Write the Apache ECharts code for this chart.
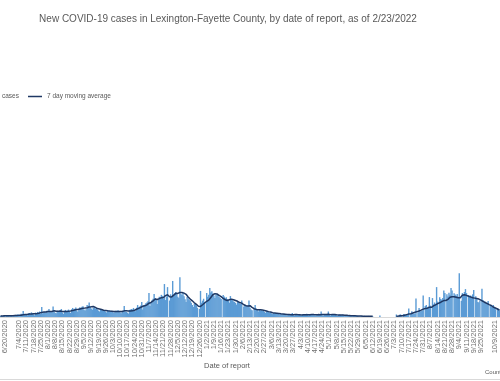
<!DOCTYPE html>
<html><head><meta charset="utf-8">
<script src="https://cdn.jsdelivr.net/npm/echarts@6/dist/echarts.min.js"></script>
<style>html,body{margin:0;padding:0;background:#fff;overflow:hidden}#c{width:500px;height:381px}</style>
</head><body><div id="c"></div>
<script>
// Daily new cases, 6/16/2020 .. 12/31/2020
const cases2020 = [
  // Jun 16-30
  12,18,9,22,15,6,20,14,25,11,19,24,8,21,27,
  // Jul
  30,22,35,12,18,41,33, 78,28,39,25,19,45,52, 38,61,44,35,22,58,49, 66,51,72,40,130,47,63, 70,55,81,
  // Aug
  58,104,69,77,62,137,71, 54,48,83,76,66,88,104, 59,41,79,92,73,85,97, 68,52,101,118,94,109,123, 86,70,112,
  // Sep
  128,119,134,141,98,85,102, 156,147,190,138,112,93,121, 126,108,117,99,84,72,95, 103,88,79,91,70,58,86, 82,75,
  // Oct
  81,69,64,52,77,83,71, 88,74,61,49,79,86,143, 72,68,58,45,92,96,104, 99,118,87,76,121,156,128, 137,149,195,
  // Nov
  98,152,161,178,190,204,312, 142,186,219,237,300,248,226, 171,232,265,254,289,276,243, 430,221,268,390,0,215,296, 258,470,
  // Dec
  284,311,327,298,265,247,520, 302,288,316,271,233,196,262, 241,224,209,187,158,132,176, 168,149,121,0,104,340,186, 213,238,197
];
// Daily new cases, 1/1/2021 .. 10/13/2021
const cases2021 = [
  // Jan
  0,312,264,291,377,318,336, 305,279,248,297,283,286,262, 251,236,0,286,268,244,259, 232,214,187,273,226,219,204, 198,183,161,
  // Feb
  206,189,178,172,215,0,138, 164,157,149,143,215,121,97, 88,0,104,156,112,93,71, 98,86,91,79,83,67,54,
  // Mar
  76,69,64,58,61,47,38, 55,49,52,44,41,52,29, 38,36,33,41,30,24,19, 35,31,29,34,52,22,18, 31,28,33,
  // Apr
  27,35,21,14,30,38,33, 29,41,26,18,34,39,31, 36,28,24,16,33,37,30, 35,72,23,15,29,34,31, 27,72,
  // May
  25,17,32,29,36,27,33, 21,14,28,31,26,24,29, 18,11,19,22,17,15,20, 12,8,16,18,14,13,17, 9,6,5,
  // Jun
  14,13,11,15,9,6,12, 14,10,13,11,8,null,null, null,null,null,null,20,null,null, null,null,null,null,null,null,null, null,null,
  // Jul
  null,null,null,null,33,8,10, 30,34,9,0,38,35,22, 38,29,110,0,41,75,39, 47,44,240,0,62,117,71, 78,85,280,
  // Aug
  0,143,156,121,134,260,148, 0,247,164,189,172,390,201, 0,258,236,224,247,345,312, 0,296,268,317,289,377,345, 0,310,294,
  // Sep
  278,301,265,572,0,212,312, 298,326,364,312,0,287,264, 281,259,296,351,0,272,248, 196,189,214,0,370,221,186, 203,174,
  // Oct 1-13
  162,208,0,154,141,128,156, 119,102,0,117,96,88
];
// 7 day moving average
const avg2020 = [
  13,14,14,15,15,16,15,16,17,16,17,18,17,18,19,
  20,21,22,22,22,24,27, 30,32,34,35,34,36,38, 37,39,40,41,41,43,44, 47,48,52,51,60,63,65, 66,66,69,
  72,68,71,73,72,80,81, 78,75,76,76,74,77,74, 73,71,73,74,73,74,75, 76,78,81,84,88,91,95, 97,98,102,
  105,108,110,114,113,117,115, 121,125,131,133,133,131,137, 134,125,116,110,107,104,100, 97,92,89,88,86,83,81, 79,77,
  76,75,74,73,72,72,71, 72,73,71,72,73,75,80, 81,80,79,79,77,78,76, 80,87,88,96,101,108,112, 118,125,137,
  140,143,146,152,159,168,180, 184,190,204,211,226,235,232, 229,233,240,245,252,250,255, 272,278,280,290,275,265,262, 262,271,
  286,296,309,306,308,315,320, 320,320,319,311,304,296,277, 262,250,234,222,211,202,186, 176,164,156,140,128,138,150, 160,172,183
];
const avg2021 = [
  190,205,210,220,240,255,271, 290,300,305,303,300,291,283, 275,266,252,242,232,225,219, 216,215,225,232,233,230,225, 221,215,209,
  205,197,188,184,181,168,160, 154,148,144,143,146,148,139, 126,116,108,104,99,96,94, 92,96,95,90,87,84,80,
  77,74,70,66,64,61,56, 53,53,52,50,48,47,43, 42,42,39,37,36,33,32, 31,31,30,30,33,30,29, 31,31,31,
  28,29,28,27,27,28,28, 28,29,30,29,30,31,31, 32,31,30,29,30,31,30, 30,35,34,33,32,32,33, 32,37,
  33,31,32,33,34,34,28, 28,27,27,27,26,25,25, 24,23,23,22,20,18,17, 16,15,16,16,15,14,14, 13,12,12,
  12,11,11,11,10,10,11, 11,11,11,11,10,null,null, null,null,null,null,null,null,null, null,null,null,null,null,null,null, null,null,
  null,null,null,null,10,11,12, 14,15,16,17,20,24,27, 31,33,38,36,42,49,53, 58,62,66,70,74,78,84, 90,96,103,
  104,110,108,115,121,127,126, 127,141,146,152,158,172,174, 170,185,195,201,209,214,216, 215,222,230,243,257,262,263, 262,264,260,
  258,255,250,247,252,268,285, 290,291,288,282,276,270,266, 262,257,252,247,246,243,240, 236,234,228,219,210,203,195, 189,182,
  176,170,162,157,150,141,130, 124,117,110,104,97,91
];
const startDate = [2020, 6, 16];
const titleText = 'New COVID-19 cases in Lexington-Fayette County, by date of report, as of 2/23/2022';
const axisTitle = 'Date of report';
const noteText = 'Counts are preliminary and subject to change';
const seriesNames = ['cases', '7 day moving average'];

const casesAll = cases2020.concat(cases2021);
const avgAll = avg2020.concat(avg2021);
const categories = [];
for (let i = 0; i < casesAll.length; i++) {
  const d = new Date(Date.UTC(startDate[0], startDate[1] - 1, startDate[2] + i));
  categories.push((d.getUTCMonth() + 1) + '/' + d.getUTCDate() + '/' + d.getUTCFullYear());
}
const firstLabel = 4; // 6/20/2020

const chart = echarts.init(document.getElementById('c'));
const FONT = 'Liberation Sans';
const GREY = '#595959';
chart.setOption({
  animation: false,
  textStyle: { fontFamily: FONT },
  title: [
    { text: titleText, left: 223, top: 9, textAlign: 'center',
      textStyle: { fontSize: 10, fontWeight: 'normal', color: GREY, fontFamily: FONT } },
    { text: axisTitle, left: 222, top: 357, textAlign: 'center',
      textStyle: { fontSize: 7.5, fontWeight: 'normal', color: GREY, fontFamily: FONT } },
    { text: noteText, left: 480, top: 364,
      textStyle: { fontSize: 6, fontWeight: 'normal', color: GREY, fontFamily: FONT } }
  ],
  legend: {
    left: -22, top: 88, itemWidth: 14, itemHeight: 1.5, itemGap: 9,
    textStyle: { fontSize: 6.5, color: GREY, fontFamily: FONT },
    data: [{ name: seriesNames[0], icon: 'rect' }, { name: seriesNames[1], icon: 'rect' }]
  },
  grid: { left: 0, right: 0, top: 110, bottom: 64 },
  xAxis: {
    type: 'category', data: categories,
    axisLine: { lineStyle: { color: '#d9d9d9', width: 1 } },
    axisTick: { show: false },
    axisLabel: {
      interval: function (i) { return i >= firstLabel && (i - firstLabel) % 7 === 0; },
      showMinLabel: true, showMaxLabel: true,
      rotate: 90, fontSize: 7.5, color: '#6f6f6f', margin: 3, fontFamily: FONT
    }
  },
  yAxis: { type: 'value', min: 0, max: 2700, show: false, splitLine: { show: false } },
  series: [
    { name: seriesNames[0], type: 'bar', data: casesAll, barWidth: 1.4,
      itemStyle: { color: '#5B9BD5' } },
    { name: seriesNames[1], type: 'line', data: avgAll, symbol: 'none', showSymbol: false,
      lineStyle: { color: '#1F3864', width: 1.5 }, itemStyle: { color: '#1F3864' } }
  ],
  graphic: [
    { type: 'line', shape: { x1: 0, y1: 379.5, x2: 500, y2: 379.5 }, style: { stroke: '#d9d9d9', lineWidth: 1 } }
  ]
});
</script>
</body></html>
